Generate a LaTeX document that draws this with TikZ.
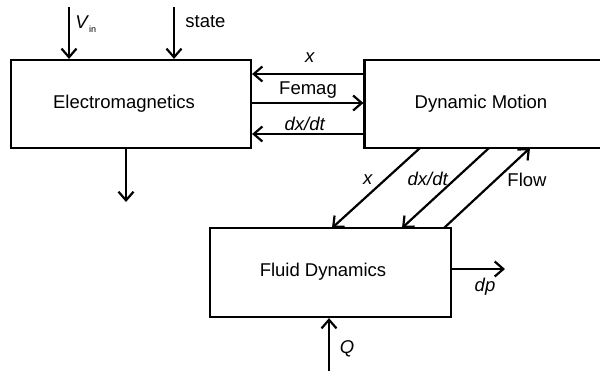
\documentclass[tikz,border=0pt]{standalone}
\usepackage{fontspec}
\setmainfont{Liberation Sans}
\usetikzlibrary{arrows.meta}
\begin{document}
\begin{tikzpicture}[x=0.5pt,y=-0.5pt,
  font=\fontsize{9.25}{11}\selectfont,
  block/.style={draw, line width=1.1pt, inner sep=0pt, anchor=center},
  sig/.style={line width=1.1pt, -{Straight Barb[length=4.3pt,width=7.5pt,line width=1.1pt]}},
  lbl/.style={inner sep=0pt}]
\useasboundingbox (0,0) rectangle (600,370);
\clip (0,0) rectangle (600,370);

% blocks
\node[block, minimum width=120pt, minimum height=44pt] (em) at (131,104) {};
\node at (124,104) {Electromagnetics};
\node[block, minimum width=119pt, minimum height=44pt] (dm) at (483.5,104) {};
\node at (481,104) {Dynamic Motion};
\node[block, minimum width=120.5pt, minimum height=44.5pt] (fd) at (330.5,272.5) {};
\node at (323,272) {Fluid Dynamics};

% inputs to the electromagnetics block
\coordinate (vin) at (69,7);
\coordinate (st) at (174,7);
\draw[sig] (vin) -- (vin |- em.north);
\draw[sig] (st) -- (st |- em.north);
\node[lbl, anchor=west] (vinl) at (75,24) {\textit{V}\raisebox{-0.35ex}{\fontsize{4.5}{5}\selectfont in}};
\node[lbl, anchor=west] (stl) at (185,22) {state};

% output of the electromagnetics block
\coordinate (emout) at (126,202);
\draw[sig] (em.south -| emout) -- (emout);

% links between electromagnetics and dynamic motion
\coordinate (xa) at (364,74);
\coordinate (fa) at (252,103);
\coordinate (va) at (364,134);
\draw[sig] (xa) -- (xa -| em.east);
\draw[sig] (fa) -- (fa -| dm.west);
\draw[sig] (va) -- (va -| em.east);
\node[lbl] (xl) at (310,58) {\textit{x}};
\node[lbl] (fl) at (308,90) {Femag};
\node[lbl] (vl) at (305,124) {\textit{dx/dt}};

% links between dynamic motion and fluid dynamics
\coordinate (d1a) at (420,148);
\coordinate (d1b) at (332,228);
\coordinate (d2a) at (489,148);
\coordinate (d2b) at (402,228);
\coordinate (d3a) at (444,228);
\coordinate (d3b) at (530,148);
\draw[sig] (d1a) -- (d1b);
\draw[sig] (d2a) -- (d2b);
\draw[sig] (d3a) -- (d3b);
\node[lbl] (d1l) at (368,180) {\textit{x}};
\node[lbl] (d2l) at (428,179) {\textit{dx/dt}};
\node[lbl] (d3l) at (527,180) {Flow};

% fluid dynamics output and input
\coordinate (dpo) at (505,269);
\draw[sig] (fd.east |- dpo) -- (dpo);
\node[lbl] (dpl) at (485,287) {\textit{dp}};
\coordinate (qin) at (329,372);
\draw[sig] (qin) -- (qin |- fd.south);
\node[lbl] (ql) at (347,349) {\textit{Q}};
\end{tikzpicture}
\end{document}
